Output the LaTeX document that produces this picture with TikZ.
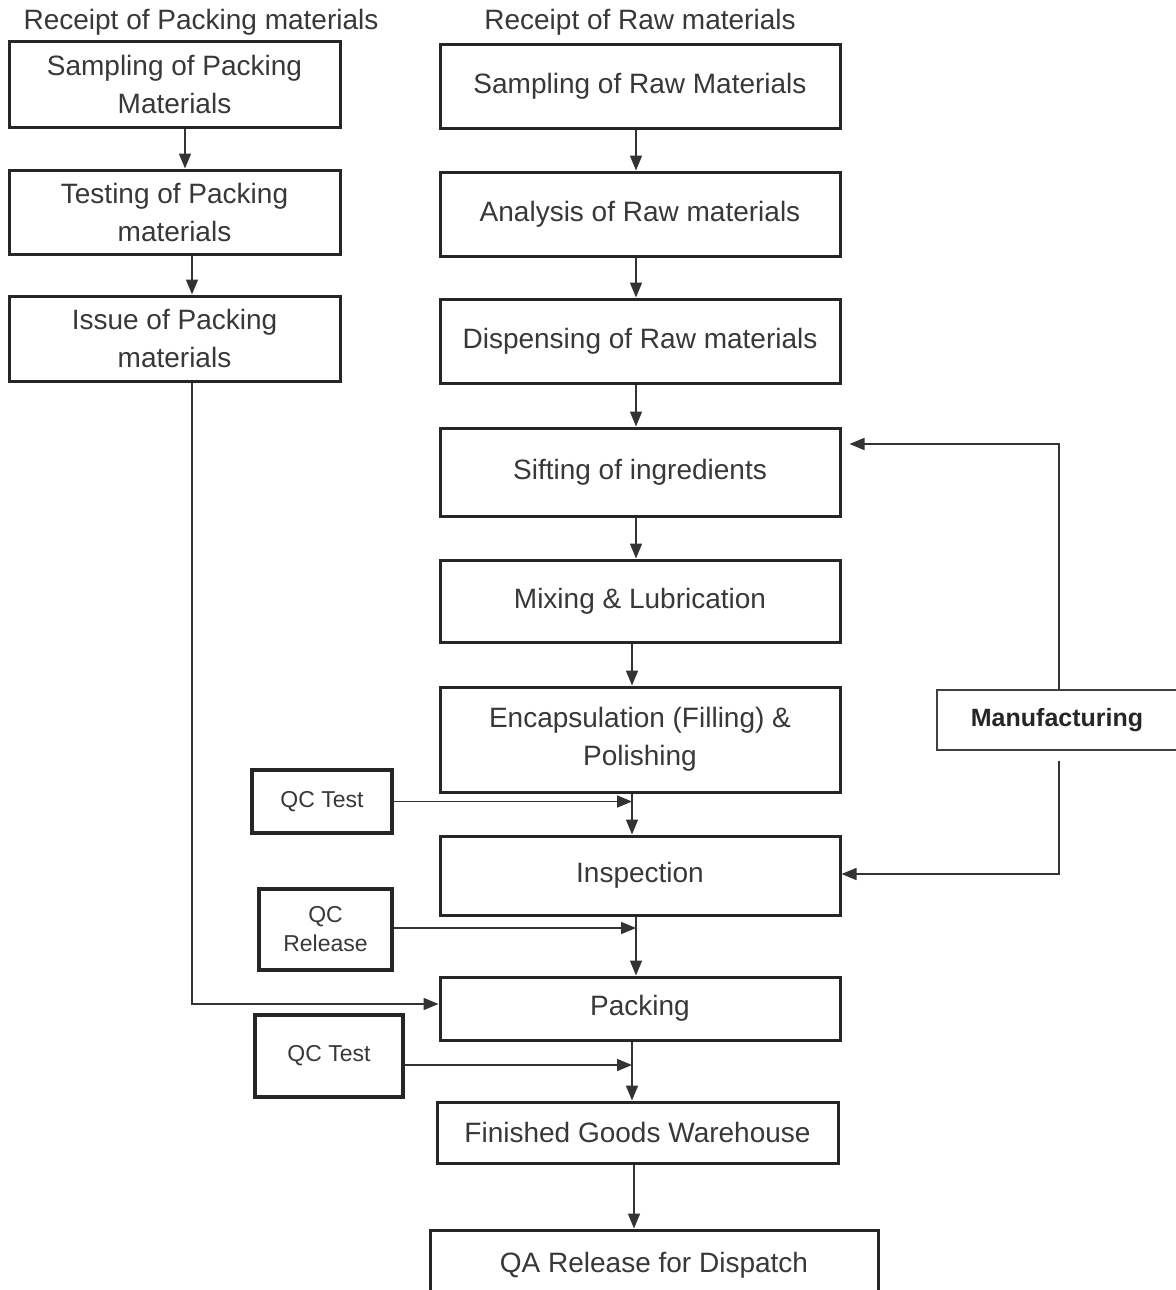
\documentclass[tikz,border=0pt]{standalone}
\usepackage{fontspec}
\setmainfont{Liberation Sans}
\usetikzlibrary{arrows.meta,calc}
\begin{document}
\begin{tikzpicture}[x=1pt,y=-1pt,
  box/.style={draw=black!85, line width=3pt, inner sep=0pt, align=center,
    text=black!78, font=\fontsize{28}{38}\selectfont},
  qcbox/.style={draw=black!85, line width=3.5pt, inner sep=0pt, align=center,
    text=black!78, font=\fontsize{23}{29}\selectfont},
  mbox/.style={draw=black!75, line width=1.5pt, inner sep=0pt, align=center,
    text=black!85, font=\fontsize{25}{30}\selectfont\bfseries},
  title/.style={text=black!78, font=\fontsize{28}{34}\selectfont, inner sep=0pt},
  arr/.style={draw=black!80, line width=1.6pt, -{Triangle[length=15pt,width=12pt]}},
  ln/.style={draw=black!80, line width=1.6pt}]
\useasboundingbox (0,0) rectangle (1175,1290);
\fill[white] (0,0) rectangle (1175,1290);

% titles
\node[title] (t1) at (201,22) {Receipt of Packing materials};
\node[title] (t2) at (640,22) {Receipt of Raw materials};

% left column
\node[box, minimum width=331pt, minimum height=85pt] (spm) at (174.5,84.5) {Sampling of Packing\\Materials};
\node[box, minimum width=331pt, minimum height=84pt] (tpm) at (174.5,212) {Testing of Packing\\materials};
\node[box, minimum width=331pt, minimum height=85pt] (ipm) at (174.5,338.5) {Issue of Packing\\materials};

% right column
\node[box, minimum width=400pt, minimum height=83pt] (srm) at (640,86.5) {Sampling of Raw Materials};
\node[box, minimum width=400pt, minimum height=84pt] (arm) at (640,214) {Analysis of Raw materials};
\node[box, minimum width=400pt, minimum height=84pt] (drm) at (640,341) {Dispensing of Raw materials};
\node[box, minimum width=400pt, minimum height=88pt] (sift) at (640,472) {Sifting of ingredients};
\node[box, minimum width=400pt, minimum height=82pt] (mix) at (640,601) {Mixing \& Lubrication};
\node[box, minimum width=400pt, minimum height=105pt] (enc) at (640,739.5) {Encapsulation (Filling) \&\\Polishing};
\node[box, minimum width=400pt, minimum height=79pt] (insp) at (640,875.5) {Inspection};
\node[box, minimum width=400pt, minimum height=63pt] (pack) at (640,1008.5) {Packing};
\node[box, minimum width=401pt, minimum height=61pt] (fgw) at (637.5,1132.5) {Finished Goods Warehouse};
\node[box, minimum width=448pt, minimum height=70pt] (qa) at (654,1265) {QA Release for Dispatch};

% QC boxes
\node[qcbox, minimum width=140pt, minimum height=63pt] (qc1) at (322,801.5) {QC Test};
\node[qcbox, minimum width=133pt, minimum height=81pt] (qc2) at (325.5,929.5) {QC\\Release};
\node[qcbox, minimum width=148pt, minimum height=82pt] (qc3) at (329,1056) {QC Test};

% manufacturing
\node[mbox, minimum width=240pt, minimum height=60pt] (manu) at (1057,720) {Manufacturing};

% vertical line positions
\coordinate (va) at (636,0);
\coordinate (vb) at (632,0);

% left column arrows
\draw[arr] ([xshift=10.5pt]spm.south) -- ([xshift=10.5pt]spm.south |- tpm.north);
\draw[arr] ([xshift=17.5pt]tpm.south) -- ([xshift=17.5pt]tpm.south |- ipm.north);
\draw[arr] ([xshift=17.5pt]ipm.south) |- ([yshift=4.5pt]pack.west);

% right column arrows
\draw[arr] (srm.south -| va) -- (arm.north -| va);
\draw[arr] (arm.south -| va) -- (drm.north -| va);
\draw[arr] (drm.south -| va) -- (sift.north -| va);
\draw[arr] (sift.south -| va) -- (mix.north -| va);
\draw[arr] (mix.south -| vb) -- (enc.north -| vb);
\draw[arr] (enc.south -| vb) -- (insp.north -| vb);
\draw[arr] (insp.south -| va) -- (pack.north -| va);
\draw[arr] (pack.south -| vb) -- (fgw.north -| vb);
\draw[arr] ([xshift=-3.5pt]fgw.south) -- ([xshift=-3.5pt]fgw.south |- qa.north);

% QC arrows
\draw[arr] (qc1.east) -- (qc1.east -| vb);
\draw[arr] ([yshift=1.5pt]qc2.east) -- ([yshift=1.5pt]qc2.east -| va);
\draw[arr] ([yshift=-9pt]qc3.east) -- ([yshift=-9pt]qc3.east -| vb);

% manufacturing feedback
\draw[arr] ([xshift=2pt]manu.north) |- ([yshift=28pt,xshift=8pt]sift.east);
\draw[arr] ([xshift=2pt,yshift=-10pt]manu.south) |- ([yshift=1.5pt]insp.east);
\end{tikzpicture}
\end{document}
